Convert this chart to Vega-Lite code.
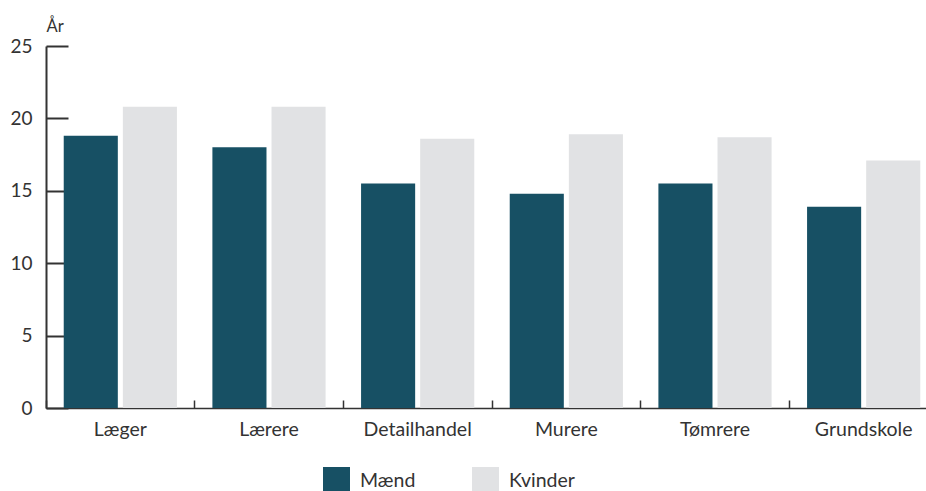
{
  "$schema": "https://vega.github.io/schema/vega-lite/v6.json",
  "width": 880,
  "height": 362,
  "autosize": {"type": "none"},
  "padding": {"left": 46, "top": 46, "right": 0, "bottom": 83},
  "background": "white",
  "data": {
    "values": [
      {"fag": "Læger", "koen": "Mænd", "aar": 18.8},
      {"fag": "Læger", "koen": "Kvinder", "aar": 20.8},
      {"fag": "Lærere", "koen": "Mænd", "aar": 18.0},
      {"fag": "Lærere", "koen": "Kvinder", "aar": 20.8},
      {"fag": "Detailhandel", "koen": "Mænd", "aar": 15.5},
      {"fag": "Detailhandel", "koen": "Kvinder", "aar": 18.6},
      {"fag": "Murere", "koen": "Mænd", "aar": 14.8},
      {"fag": "Murere", "koen": "Kvinder", "aar": 18.9},
      {"fag": "Tømrere", "koen": "Mænd", "aar": 15.5},
      {"fag": "Tømrere", "koen": "Kvinder", "aar": 18.7},
      {"fag": "Grundskole", "koen": "Mænd", "aar": 13.9},
      {"fag": "Grundskole", "koen": "Kvinder", "aar": 17.1}
    ]
  },
  "mark": {"type": "bar"},
  "encoding": {
    "x": {
      "field": "fag",
      "type": "nominal",
      "sort": null,
      "scale": {"range": [0, 892], "paddingInner": 0, "paddingOuter": 0},
      "axis": {
        "title": null,
        "labelAngle": 0,
        "bandPosition": 0,
        "tickSize": -8,
        "labelPadding": 20,
        "labelFontSize": 19.5,
        "domainColor": "#333333",
        "tickColor": "#333333",
        "domainWidth": 1.5,
        "tickWidth": 1.5
      }
    },
    "xOffset": {
      "field": "koen",
      "sort": ["Mænd", "Kvinder"],
      "scale": {"paddingInner": 0.085, "paddingOuter": 0.3}
    },
    "y": {
      "field": "aar",
      "type": "quantitative",
      "scale": {"domain": [0, 25], "nice": false},
      "axis": {
        "values": [0, 5, 10, 15, 20, 25],
        "grid": false,
        "tickSize": -22,
        "labelPadding": 36,
        "labelFontSize": 19,
        "domainColor": "#333333",
        "tickColor": "#333333",
        "domainWidth": 2,
        "tickWidth": 2,
        "title": "År",
        "titleAngle": 0,
        "titleAlign": "left",
        "titleBaseline": "alphabetic",
        "titleX": 0,
        "titleY": -15,
        "titleFontSize": 16.5,
        "titleFontWeight": "normal",
        "titleColor": "#333333"
      }
    },
    "color": {
      "field": "koen",
      "type": "nominal",
      "sort": ["Mænd", "Kvinder"],
      "scale": {"domain": ["Mænd", "Kvinder"], "range": ["#175064", "#E1E2E4"]},
      "legend": {
        "title": null,
        "orient": "none",
        "direction": "horizontal",
        "legendX": 277,
        "legendY": 421,
        "symbolType": "square",
        "symbolSize": 729,
        "symbolStrokeWidth": 0,
        "symbolOpacity": 1,
        "labelFontSize": 19.5,
        "labelOffset": 10,
        "columnPadding": 56,
        "labelColor": "#333333"
      }
    }
  },
  "config": {
    "font": "Lato",
    "view": {"stroke": null},
    "axis": {
      "labelColor": "#333333",
      "labelFont": "Lato"
    },
    "legend": {"labelFont": "Lato"}
  }
}
